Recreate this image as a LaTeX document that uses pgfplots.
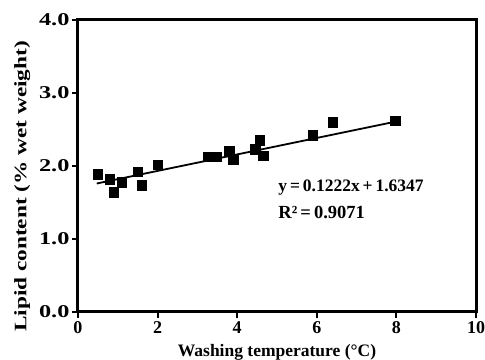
\documentclass[border=0pt]{standalone}
\usepackage{fontspec}
\setmainfont{Liberation Serif}
\usepackage{graphicx}
\usepackage{pgfplots}
\pgfplotsset{compat=1.18}
\begin{document}
\begin{tikzpicture}
\begin{axis}[
  scale only axis, width=398pt, height=292pt,
  xmin=0, xmax=10, ymin=0, ymax=4,
  xtick={0,2,4,6,8,10}, ytick={0,1,2,3,4},
  /pgf/number format/assume math mode=true,
  yticklabel={\scalebox{1.35}[1]{\pgfmathprintnumber[fixed,fixed zerofill,precision=1]{\tick}}},
  ticklabel style={font=\fontsize{18}{18}\selectfont\bfseries},
  yticklabel style={xshift=1pt},
  tick align=outside, tick pos=left, major tick length=6pt,
  every tick/.style={black, line width=2pt},
  axis line style={line width=3pt, line join=miter},
  xlabel={Washing temperature (°C)},
  ylabel={\scalebox{1.33}[1]{Lipid content (\% wet weight)}},
  xlabel style={font=\fontsize{17.5}{17.5}\selectfont\bfseries, at={(axis description cs:0.5,-0.137)}, anchor=center},
  ylabel style={font=\fontsize{17.5}{17.5}\selectfont\bfseries, at={(axis description cs:-0.14,0.43)}, anchor=center},
  clip=false,
]
\addplot[black, line width=1.8pt, no marks] coordinates {(0.47,1.76) (8.0,2.61)};
\addplot[only marks, mark=square*, mark size=4.8pt, black] coordinates {
(0.5,1.89) (0.8,1.82) (0.9,1.64) (1.1,1.78) (1.5,1.92) (1.6,1.74) (2.0,2.02)
(3.27,2.13) (3.48,2.13) (3.8,2.21) (3.9,2.09) (4.45,2.23) (4.57,2.35) (4.65,2.14)
(5.9,2.42) (6.4,2.60) (7.97,2.62)
};
\node[anchor=west, inner sep=0pt, font=\fontsize{17.5}{17.5}\selectfont\bfseries] at (axis cs:5.03,1.70) {y\,=\,0.1222x\,+\,1.6347};
\node[anchor=west, inner sep=0pt, font=\fontsize{18.5}{18.5}\selectfont\bfseries] at (axis cs:5.03,1.37) {R²\,=\,0.9071};
\end{axis}
\pgfresetboundingbox
\path ([xshift=-78pt,yshift=-48pt]current axis.south west) rectangle ([xshift=9pt,yshift=20pt]current axis.north east);
\end{tikzpicture}
\end{document}
